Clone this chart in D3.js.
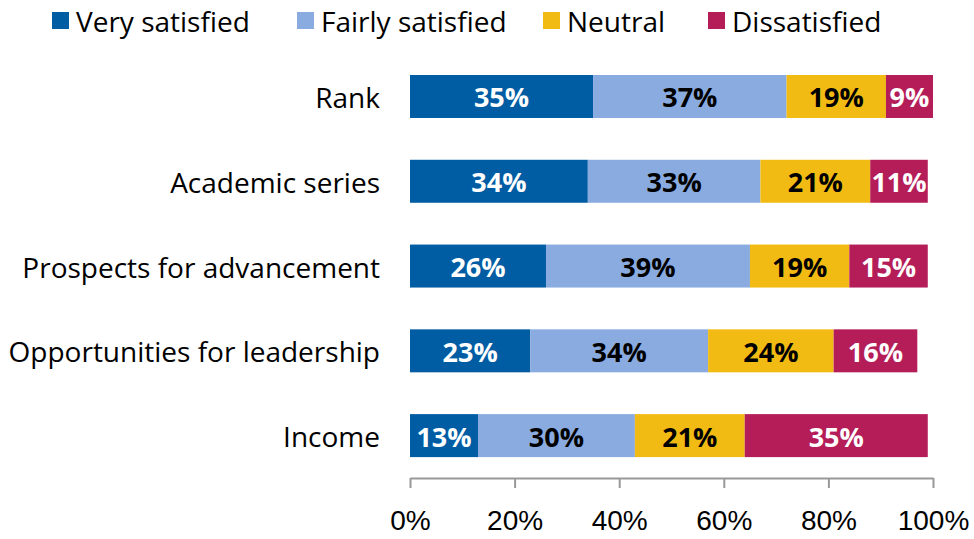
<!DOCTYPE html>
<html>
<head>
<meta charset="utf-8">
<script src="https://cdn.jsdelivr.net/npm/d3@7"></script>
<style>
    body { margin: 0; background: #fff; }
    svg { display: block; font-family: "Open Sans", "Liberation Sans", sans-serif; }
    .cat { font-size: 28px; fill: #000; }
    .legend_text { font-size: 28px; fill: #000; }
    .tick_label { font-size: 28px; fill: #000; }
    .bar_label { font-size: 27px; font-weight: bold; }
</style>
</head>
<body>
<svg id="chart" width="974" height="539"></svg>
<script>
let categories = ["Rank", "Academic series", "Prospects for advancement", "Opportunities for leadership", "Income"];
let series = ["Very satisfied", "Fairly satisfied", "Neutral", "Dissatisfied"];
let very_satisfied = [35, 34, 26, 23, 13];
let fairly_satisfied = [37, 33, 39, 34, 30];
let neutral = [19, 21, 19, 24, 21];
let dissatisfied = [9, 11, 15, 16, 35];
let x_ticks = [0, 20, 40, 60, 80, 100];

let colors = ["#005ca3", "#89abe0", "#f2bb14", "#b41d58"];
let label_colors = ["#fff", "#000", "#000", "#fff"];

let svg = d3.select("#chart");

let xScale = d3.scaleLinear()
    .domain([0, 100])
    .range([410, 933]);

let yScale = d3.scaleBand()
    .domain(categories)
    .range([54.1, 478])
    .paddingInner(0.493)
    .paddingOuter(0.2465);

let values = [very_satisfied, fairly_satisfied, neutral, dissatisfied];

// build stacked rows
let rows = categories.map((c, i) => {
    let row = {cat: c};
    series.forEach((s, j) => row[s] = values[j][i]);
    return row;
});
let stacked = d3.stack().keys(series)(rows);

let groups = svg.append("g")
    .selectAll("g")
    .data(stacked)
    .enter()
    .append("g")
    .attr("fill", (d, i) => colors[i]);

groups.selectAll("rect")
    .data(d => d)
    .enter()
    .append("rect")
    .attr("x", d => xScale(d[0]))
    .attr("y", d => yScale(d.data.cat))
    .attr("width", d => xScale(d[1]) - xScale(d[0]))
    .attr("height", yScale.bandwidth());

groups.each(function(s, i) {
    d3.select(this).selectAll("text")
        .data(s)
        .enter()
        .append("text")
        .attr("class", "bar_label")
        .attr("x", d => (xScale(d[0]) + xScale(d[1])) / 2)
        .attr("y", d => yScale(d.data.cat) + yScale.bandwidth() / 2 + 11)
        .attr("text-anchor", "middle")
        .attr("fill", label_colors[i])
        .text(d => (d[1] - d[0]) + "%");
});

// category labels
svg.append("g")
    .selectAll("text")
    .data(categories)
    .enter()
    .append("text")
    .attr("class", "cat")
    .attr("x", 380)
    .attr("y", d => yScale(d) + yScale.bandwidth() / 2 + 11.5)
    .attr("text-anchor", "end")
    .text(d => d);

// x axis
let axis = svg.append("g")
    .attr("transform", "translate(0,478)")
    .call(d3.axisBottom(xScale).tickValues(x_ticks).tickSize(10).tickSizeOuter(0).tickFormat(d => d + "%"));
axis.select(".domain").attr("stroke", "#999").attr("stroke-width", 2);
axis.selectAll(".tick line").attr("stroke", "#999").attr("stroke-width", 2);
axis.selectAll(".tick text")
    .attr("class", "tick_label")
    .attr("font-family", null)
    .attr("font-size", null)
    .attr("y", 52)
    .attr("dy", null);

// legend
let legend_x = [52, 297, 543, 708];
let legend = svg.append("g")
    .selectAll("g")
    .data(series)
    .enter()
    .append("g")
    .attr("transform", (d, i) => "translate(" + legend_x[i] + ",0)");

legend.append("rect")
    .attr("x", 0)
    .attr("y", 12)
    .attr("width", 17)
    .attr("height", 17)
    .attr("fill", (d, i) => colors[i]);

legend.append("text")
    .attr("class", "legend_text")
    .attr("x", 24)
    .attr("y", 32)
    .text(d => d);
</script>
</body>
</html>
